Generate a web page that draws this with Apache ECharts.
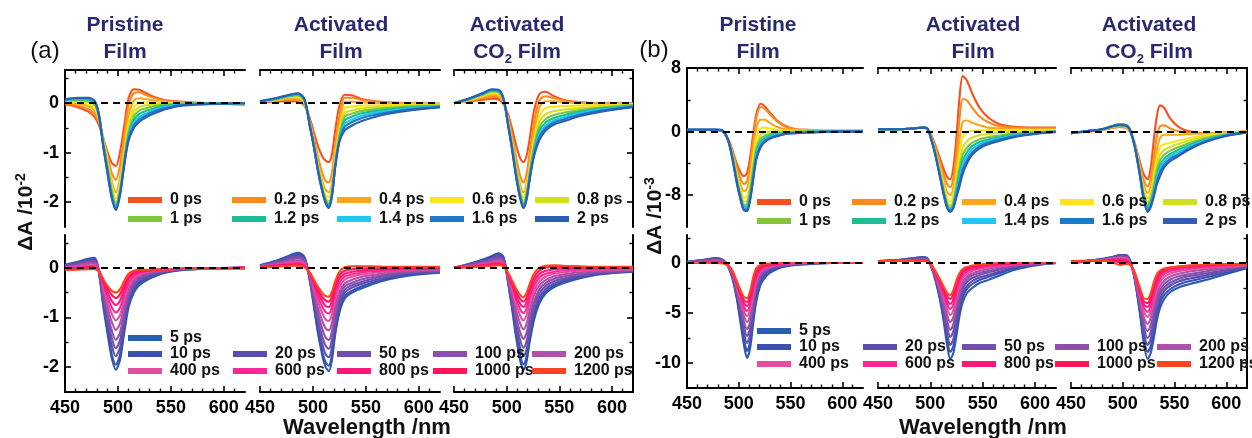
<!DOCTYPE html>
<html><head><meta charset="utf-8">
<script src="https://cdn.jsdelivr.net/npm/echarts@6/dist/echarts.min.js"></script>
<style>html,body{margin:0;padding:0;background:#fff}#c{width:1252px;height:438px}</style>
</head><body><div id="c"></div>
<script>
// ---------------- DATA ----------------
const earlyTimes = ['0 ps','0.2 ps','0.4 ps','0.6 ps','0.8 ps','1 ps','1.2 ps','1.4 ps','1.6 ps','2 ps'];
const lateTimes = ['5 ps','10 ps','20 ps','50 ps','100 ps','200 ps','400 ps','600 ps','800 ps','1000 ps','1200 ps'];
const wlLabels = [450,500,550,600];
const wlMinor = [460,470,480,490,510,520,530,540,560,570,580,590,610];
const aYLabels = [-2,-1,0];
const aYMinor = [-1.5,-0.5,0.5];
const bTopYLabels = [-8,0,8];
const bTopYMinor = [-4,4];
const bBotYLabels = [-10,-5,0];
const bBotYMinor = [-7.5,-2.5,2.5];

// (a) Pristine film, units 1e-2
const wlPristineA = [450,462,472,478,482,486,490,494,498,502,506,510,515,520,527,535,545,560,585,620];
const pristineA_early = [
 [-0.02,-0.08,-0.17,-0.28,-0.45,-0.7,-0.98,-1.2,-1.27,-0.98,-0.45,0.1,0.28,0.27,0.2,0.12,0.06,0.03,0.0,-0.03],
 [0.0,-0.05,-0.12,-0.22,-0.4,-0.7,-1.05,-1.4,-1.55,-1.25,-0.65,-0.05,0.2,0.22,0.16,0.1,0.05,0.02,0.0,-0.02],
 [0.02,-0.01,-0.06,-0.15,-0.35,-0.7,-1.1,-1.55,-1.8,-1.5,-0.85,-0.25,0.05,0.1,0.08,0.05,0.03,0.01,0.0,-0.01],
 [0.03,0.02,-0.02,-0.1,-0.3,-0.72,-1.15,-1.62,-1.92,-1.62,-1.0,-0.4,-0.08,0.0,0.02,0.02,0.01,0.0,0.0,0.0],
 [0.04,0.04,0.02,-0.06,-0.28,-0.75,-1.2,-1.7,-2.0,-1.7,-1.08,-0.5,-0.18,-0.08,-0.04,-0.02,-0.01,0.0,0.0,0.0],
 [0.05,0.06,0.05,-0.02,-0.26,-0.78,-1.25,-1.75,-2.05,-1.75,-1.15,-0.58,-0.27,-0.15,-0.1,-0.06,-0.03,-0.01,0.0,0.0],
 [0.06,0.08,0.07,0.01,-0.25,-0.8,-1.3,-1.8,-2.08,-1.78,-1.18,-0.64,-0.34,-0.22,-0.15,-0.1,-0.05,-0.02,0.0,0.0],
 [0.06,0.09,0.09,0.03,-0.24,-0.82,-1.33,-1.85,-2.1,-1.8,-1.2,-0.68,-0.4,-0.28,-0.2,-0.13,-0.08,-0.03,-0.01,0.0],
 [0.07,0.1,0.1,0.04,-0.23,-0.84,-1.36,-1.88,-2.13,-1.83,-1.22,-0.72,-0.45,-0.33,-0.24,-0.16,-0.1,-0.04,-0.01,0.0],
 [0.08,0.11,0.11,0.05,-0.22,-0.86,-1.4,-1.9,-2.16,-1.85,-1.25,-0.76,-0.5,-0.38,-0.28,-0.2,-0.12,-0.05,-0.02,0.0]
];
const pristineA_late = [
 [0.06,0.12,0.18,0.2,-0.1,-0.75,-1.3,-1.8,-2.05,-1.85,-1.3,-0.8,-0.5,-0.35,-0.25,-0.17,-0.1,-0.05,-0.02,0.0],
 [0.05,0.11,0.17,0.18,-0.08,-0.7,-1.22,-1.72,-1.95,-1.75,-1.22,-0.74,-0.45,-0.31,-0.22,-0.15,-0.09,-0.04,-0.02,0.0],
 [0.04,0.1,0.15,0.16,-0.06,-0.63,-1.1,-1.55,-1.78,-1.6,-1.1,-0.66,-0.4,-0.27,-0.19,-0.13,-0.08,-0.04,-0.01,0.0],
 [0.03,0.08,0.13,0.14,-0.05,-0.57,-1.0,-1.4,-1.62,-1.45,-1.0,-0.6,-0.35,-0.23,-0.16,-0.11,-0.07,-0.03,-0.01,0.0],
 [0.02,0.06,0.1,0.11,-0.05,-0.5,-0.9,-1.25,-1.45,-1.3,-0.88,-0.52,-0.3,-0.2,-0.13,-0.09,-0.06,-0.03,-0.01,0.0],
 [0.01,0.04,0.08,0.08,-0.05,-0.44,-0.78,-1.08,-1.25,-1.12,-0.75,-0.44,-0.25,-0.16,-0.11,-0.07,-0.05,-0.02,-0.01,0.0],
 [0.0,0.02,0.05,0.05,-0.05,-0.38,-0.67,-0.92,-1.06,-0.95,-0.63,-0.36,-0.2,-0.13,-0.09,-0.06,-0.04,-0.02,-0.01,0.0],
 [-0.01,0.0,0.03,0.03,-0.05,-0.33,-0.58,-0.79,-0.9,-0.8,-0.53,-0.3,-0.16,-0.1,-0.07,-0.05,-0.03,-0.02,-0.01,0.0],
 [-0.02,-0.01,0.01,0.01,-0.06,-0.28,-0.49,-0.66,-0.75,-0.66,-0.43,-0.23,-0.12,-0.08,-0.06,-0.04,-0.03,-0.02,-0.01,0.0],
 [-0.03,-0.02,0.0,-0.01,-0.06,-0.24,-0.41,-0.54,-0.61,-0.53,-0.34,-0.18,-0.09,-0.06,-0.05,-0.04,-0.03,-0.02,-0.01,-0.01],
 [-0.05,-0.04,-0.03,-0.03,-0.07,-0.22,-0.36,-0.46,-0.5,-0.43,-0.26,-0.12,-0.06,-0.04,-0.04,-0.03,-0.03,-0.02,-0.02,-0.02]
];

// (a) Activated film
const wlActivatedA = [450,465,478,486,492,497,501,505,509,512,515,518,521,525,530,537,545,555,570,590,620];
const activatedA_early = [
 [0.02,0.03,0.04,0.03,-0.05,-0.3,-0.6,-0.88,-1.08,-1.16,-1.19,-1.02,-0.55,-0.05,0.17,0.16,0.09,0.05,0.02,0.0,-0.01],
 [0.03,0.05,0.07,0.06,-0.04,-0.35,-0.7,-1.1,-1.42,-1.57,-1.6,-1.4,-0.85,-0.25,0.11,0.11,0.07,0.04,0.01,0.0,-0.01],
 [0.03,0.06,0.1,0.1,0.0,-0.38,-0.78,-1.22,-1.58,-1.75,-1.8,-1.6,-1.0,-0.42,0.02,0.03,0.02,0.01,0.0,-0.01,-0.02],
 [0.03,0.07,0.12,0.12,0.02,-0.4,-0.82,-1.28,-1.65,-1.86,-1.9,-1.7,-1.1,-0.55,-0.1,-0.07,-0.05,-0.05,-0.04,-0.03,-0.03],
 [0.04,0.08,0.13,0.14,0.04,-0.41,-0.84,-1.31,-1.7,-1.92,-1.98,-1.76,-1.18,-0.62,-0.2,-0.15,-0.11,-0.09,-0.07,-0.05,-0.04],
 [0.04,0.08,0.14,0.16,0.05,-0.42,-0.86,-1.34,-1.73,-1.96,-2.03,-1.8,-1.22,-0.67,-0.27,-0.21,-0.16,-0.13,-0.1,-0.07,-0.05],
 [0.04,0.09,0.15,0.17,0.06,-0.43,-0.87,-1.36,-1.75,-1.98,-2.06,-1.82,-1.25,-0.71,-0.35,-0.27,-0.21,-0.17,-0.13,-0.09,-0.06],
 [0.04,0.09,0.16,0.18,0.07,-0.44,-0.88,-1.38,-1.77,-2.0,-2.08,-1.84,-1.27,-0.74,-0.42,-0.33,-0.26,-0.21,-0.16,-0.11,-0.07],
 [0.04,0.1,0.17,0.19,0.07,-0.45,-0.89,-1.39,-1.79,-2.01,-2.1,-1.86,-1.29,-0.76,-0.48,-0.38,-0.31,-0.25,-0.19,-0.13,-0.08],
 [0.04,0.1,0.17,0.2,0.08,-0.46,-0.9,-1.4,-1.8,-2.02,-2.12,-1.87,-1.3,-0.78,-0.55,-0.45,-0.37,-0.3,-0.22,-0.15,-0.08]
];
const activatedA_late = [
 [0.05,0.14,0.25,0.3,0.22,-0.25,-0.8,-1.35,-1.78,-2.0,-2.08,-1.85,-1.35,-0.9,-0.62,-0.5,-0.42,-0.34,-0.24,-0.16,-0.1],
 [0.05,0.13,0.23,0.28,0.2,-0.24,-0.76,-1.28,-1.7,-1.9,-1.97,-1.75,-1.27,-0.84,-0.57,-0.46,-0.38,-0.31,-0.22,-0.14,-0.09],
 [0.04,0.12,0.21,0.25,0.18,-0.22,-0.7,-1.17,-1.55,-1.74,-1.8,-1.6,-1.15,-0.75,-0.5,-0.4,-0.33,-0.27,-0.19,-0.12,-0.08],
 [0.04,0.11,0.19,0.22,0.16,-0.2,-0.63,-1.06,-1.4,-1.57,-1.63,-1.44,-1.03,-0.66,-0.44,-0.35,-0.29,-0.23,-0.16,-0.1,-0.07],
 [0.03,0.09,0.16,0.19,0.13,-0.18,-0.56,-0.94,-1.24,-1.4,-1.45,-1.28,-0.9,-0.57,-0.37,-0.3,-0.24,-0.19,-0.13,-0.08,-0.06],
 [0.03,0.08,0.13,0.15,0.1,-0.16,-0.49,-0.82,-1.08,-1.22,-1.26,-1.1,-0.77,-0.48,-0.31,-0.24,-0.19,-0.15,-0.1,-0.06,-0.04],
 [0.02,0.06,0.1,0.12,0.07,-0.14,-0.42,-0.7,-0.92,-1.04,-1.07,-0.93,-0.63,-0.38,-0.24,-0.18,-0.14,-0.11,-0.07,-0.04,-0.03],
 [0.02,0.05,0.08,0.09,0.05,-0.12,-0.36,-0.6,-0.79,-0.89,-0.92,-0.79,-0.52,-0.3,-0.18,-0.13,-0.1,-0.07,-0.05,-0.03,-0.02],
 [0.01,0.04,0.06,0.07,0.03,-0.11,-0.31,-0.52,-0.68,-0.77,-0.79,-0.67,-0.42,-0.22,-0.12,-0.08,-0.06,-0.04,-0.03,-0.02,-0.01],
 [0.01,0.03,0.05,0.05,0.02,-0.1,-0.27,-0.45,-0.59,-0.66,-0.68,-0.57,-0.34,-0.15,-0.06,-0.03,-0.02,-0.01,-0.01,0.0,0.0],
 [0.0,0.02,0.04,0.04,0.02,-0.09,-0.24,-0.39,-0.51,-0.57,-0.58,-0.48,-0.27,-0.08,0.01,0.03,0.03,0.03,0.02,0.02,0.02]
];

// (a) Activated CO2 film
const wlCO2A = [450,465,478,486,492,497,501,505,509,513,516,519,522,526,531,537,545,555,570,590,620];
const co2A_early = [
 [0.0,0.04,0.07,0.09,0.08,-0.02,-0.2,-0.5,-0.85,-1.12,-1.19,-1.05,-0.7,-0.15,0.18,0.23,0.14,0.06,0.02,0.0,0.0],
 [0.0,0.05,0.1,0.13,0.12,0.0,-0.25,-0.62,-1.1,-1.48,-1.6,-1.42,-0.98,-0.4,0.05,0.14,0.1,0.05,0.02,0.0,0.0],
 [0.0,0.06,0.13,0.17,0.16,0.03,-0.3,-0.72,-1.25,-1.65,-1.8,-1.62,-1.17,-0.62,-0.1,0.04,0.04,0.02,0.0,-0.01,-0.01],
 [0.0,0.07,0.15,0.2,0.19,0.05,-0.33,-0.78,-1.33,-1.75,-1.9,-1.72,-1.28,-0.75,-0.26,-0.1,-0.07,-0.06,-0.05,-0.04,-0.02],
 [0.0,0.08,0.17,0.22,0.21,0.06,-0.35,-0.82,-1.38,-1.81,-1.97,-1.79,-1.35,-0.84,-0.38,-0.22,-0.16,-0.13,-0.1,-0.07,-0.03],
 [0.0,0.08,0.18,0.24,0.23,0.07,-0.36,-0.84,-1.41,-1.85,-2.02,-1.84,-1.4,-0.9,-0.48,-0.32,-0.24,-0.19,-0.14,-0.09,-0.04],
 [0.0,0.09,0.19,0.25,0.24,0.08,-0.37,-0.86,-1.43,-1.88,-2.05,-1.87,-1.44,-0.95,-0.56,-0.39,-0.3,-0.24,-0.17,-0.11,-0.05],
 [0.0,0.09,0.2,0.26,0.25,0.08,-0.38,-0.88,-1.45,-1.9,-2.08,-1.9,-1.47,-0.99,-0.63,-0.45,-0.35,-0.28,-0.2,-0.13,-0.06],
 [0.0,0.1,0.2,0.27,0.26,0.09,-0.39,-0.9,-1.47,-1.92,-2.1,-1.92,-1.5,-1.03,-0.69,-0.5,-0.39,-0.32,-0.23,-0.15,-0.07],
 [0.0,0.1,0.21,0.28,0.27,0.1,-0.4,-0.92,-1.49,-1.94,-2.12,-1.94,-1.53,-1.07,-0.75,-0.55,-0.43,-0.36,-0.26,-0.17,-0.08]
];
const co2A_late = [
 [0.0,0.08,0.17,0.24,0.29,0.22,-0.25,-0.8,-1.4,-1.88,-2.05,-1.88,-1.48,-1.05,-0.72,-0.52,-0.39,-0.3,-0.21,-0.13,-0.08],
 [0.0,0.08,0.16,0.22,0.27,0.2,-0.24,-0.76,-1.33,-1.78,-1.94,-1.78,-1.39,-0.98,-0.67,-0.48,-0.36,-0.27,-0.19,-0.12,-0.07],
 [0.0,0.07,0.14,0.2,0.24,0.18,-0.22,-0.7,-1.22,-1.63,-1.78,-1.63,-1.27,-0.88,-0.6,-0.43,-0.32,-0.24,-0.17,-0.11,-0.07],
 [0.0,0.06,0.13,0.18,0.21,0.16,-0.2,-0.63,-1.1,-1.47,-1.61,-1.47,-1.14,-0.78,-0.52,-0.37,-0.27,-0.21,-0.14,-0.09,-0.06],
 [0.0,0.05,0.11,0.15,0.18,0.13,-0.18,-0.56,-0.98,-1.31,-1.43,-1.3,-1.0,-0.68,-0.44,-0.31,-0.22,-0.17,-0.12,-0.08,-0.05],
 [0.0,0.04,0.09,0.12,0.15,0.11,-0.16,-0.49,-0.85,-1.13,-1.24,-1.12,-0.85,-0.56,-0.36,-0.25,-0.17,-0.13,-0.09,-0.06,-0.04],
 [0.0,0.03,0.07,0.1,0.12,0.09,-0.14,-0.42,-0.73,-0.97,-1.06,-0.95,-0.71,-0.46,-0.28,-0.18,-0.12,-0.09,-0.06,-0.04,-0.03],
 [0.0,0.03,0.06,0.08,0.1,0.07,-0.12,-0.37,-0.63,-0.84,-0.91,-0.81,-0.59,-0.36,-0.2,-0.12,-0.08,-0.05,-0.03,-0.02,-0.01],
 [0.0,0.02,0.05,0.07,0.08,0.05,-0.11,-0.32,-0.55,-0.73,-0.79,-0.69,-0.49,-0.27,-0.13,-0.06,-0.03,-0.01,0.0,0.0,0.0],
 [0.0,0.02,0.04,0.05,0.06,0.04,-0.1,-0.28,-0.48,-0.63,-0.68,-0.59,-0.4,-0.19,-0.06,0.0,0.02,0.02,0.02,0.01,0.01],
 [0.0,0.01,0.03,0.04,0.05,0.03,-0.09,-0.25,-0.42,-0.55,-0.59,-0.5,-0.32,-0.12,0.0,0.04,0.05,0.04,0.03,0.02,0.02]
];

// (b) Pristine film, units 1e-3
const wlPristineB = [450,465,478,485,490,494,498,502,505,508,511,514,517,521,525,530,537,545,555,570,590,620];
const pristineB_early = [
 [0.2,0.2,0.2,0.0,-1.0,-2.4,-4.0,-5.2,-5.6,-5.2,-3.2,-0.3,2.2,3.5,3.2,2.4,1.4,0.7,0.3,0.2,0.1,0.1],
 [0.2,0.2,0.2,0.0,-1.1,-2.6,-4.5,-6.0,-6.6,-6.2,-4.2,-1.0,1.7,3.1,2.9,2.2,1.3,0.6,0.3,0.2,0.1,0.1],
 [0.2,0.2,0.2,0.0,-1.1,-2.8,-5.0,-6.8,-7.5,-7.2,-5.3,-2.2,0.4,1.5,1.5,1.1,0.6,0.3,0.2,0.1,0.1,0.1],
 [0.2,0.2,0.2,0.0,-1.2,-3.0,-5.4,-7.4,-8.3,-8.1,-6.3,-3.3,-0.7,0.4,0.5,0.4,0.2,0.1,0.1,0.1,0.1,0.1],
 [0.2,0.2,0.2,0.0,-1.2,-3.1,-5.7,-7.8,-8.8,-8.7,-7.0,-4.1,-1.6,-0.4,-0.1,0.0,0.0,0.0,0.0,0.0,0.0,0.1],
 [0.2,0.2,0.2,0.0,-1.2,-3.2,-5.9,-8.1,-9.2,-9.1,-7.5,-4.7,-2.2,-0.9,-0.5,-0.3,-0.2,-0.1,0.0,0.0,0.0,0.1],
 [0.2,0.2,0.2,0.0,-1.2,-3.3,-6.1,-8.3,-9.4,-9.4,-7.9,-5.1,-2.6,-1.3,-0.8,-0.5,-0.3,-0.2,-0.1,0.0,0.0,0.0],
 [0.2,0.2,0.2,0.0,-1.2,-3.4,-6.2,-8.5,-9.6,-9.6,-8.2,-5.5,-3.0,-1.6,-1.0,-0.7,-0.4,-0.2,-0.1,0.0,0.0,0.0],
 [0.2,0.2,0.2,0.0,-1.2,-3.5,-6.3,-8.6,-9.8,-9.8,-8.4,-5.8,-3.3,-1.8,-1.2,-0.8,-0.5,-0.3,-0.2,-0.1,0.0,0.0],
 [0.3,0.3,0.3,0.1,-1.2,-3.5,-6.4,-8.7,-9.9,-10.0,-8.6,-6.0,-3.5,-2.0,-1.3,-0.9,-0.6,-0.3,-0.2,-0.1,0.0,0.0]
];
const pristineB_late = [
 [0.1,0.3,0.5,0.3,-0.4,-1.6,-3.5,-6.2,-8.2,-9.5,-8.5,-6.0,-3.8,-2.2,-1.5,-1.0,-0.6,-0.35,-0.2,-0.1,0.0,0.0],
 [0.1,0.3,0.45,0.3,-0.4,-1.5,-3.3,-5.8,-7.6,-8.8,-7.9,-5.5,-3.4,-1.9,-1.3,-0.85,-0.5,-0.3,-0.15,-0.05,0.0,0.0],
 [0.1,0.25,0.4,0.25,-0.35,-1.4,-3.1,-5.3,-7.0,-8.0,-7.2,-5.0,-3.0,-1.6,-1.1,-0.7,-0.4,-0.25,-0.1,0.0,0.0,0.0],
 [0.1,0.2,0.35,0.2,-0.3,-1.3,-2.9,-4.9,-6.4,-7.3,-6.5,-4.5,-2.6,-1.4,-0.9,-0.6,-0.35,-0.2,-0.1,0.0,0.0,0.0],
 [0.1,0.2,0.3,0.2,-0.3,-1.2,-2.7,-4.5,-5.9,-6.6,-5.9,-4.0,-2.3,-1.2,-0.8,-0.5,-0.3,-0.15,-0.1,0.0,0.0,0.0],
 [0.05,0.15,0.25,0.15,-0.3,-1.1,-2.5,-4.1,-5.3,-5.9,-5.2,-3.5,-2.0,-1.0,-0.65,-0.4,-0.25,-0.1,-0.05,0.0,0.0,0.0],
 [0.05,0.1,0.2,0.1,-0.3,-1.0,-2.3,-3.8,-4.8,-5.3,-4.6,-3.0,-1.7,-0.85,-0.5,-0.3,-0.2,-0.1,0.0,0.0,0.0,0.0],
 [0.0,0.1,0.15,0.1,-0.25,-0.95,-2.1,-3.5,-4.4,-4.8,-4.1,-2.6,-1.4,-0.7,-0.4,-0.25,-0.15,-0.05,0.0,0.0,0.0,0.0],
 [0.0,0.05,0.1,0.05,-0.25,-0.9,-2.0,-3.2,-4.0,-4.3,-3.6,-2.2,-1.1,-0.5,-0.3,-0.2,-0.1,0.0,0.0,0.0,0.0,0.0],
 [0.0,0.05,0.05,0.0,-0.25,-0.85,-1.9,-3.0,-3.7,-3.9,-3.2,-1.8,-0.8,-0.35,-0.2,-0.1,-0.05,0.0,0.0,0.0,0.0,0.0],
 [0.0,0.0,0.0,-0.05,-0.3,-0.8,-1.8,-2.8,-3.4,-3.5,-2.8,-1.4,-0.5,-0.2,-0.1,-0.05,0.0,0.0,0.0,0.0,0.0,0.0]
];

// (b) Activated film
const wlActivatedB = [450,470,485,492,497,501,505,509,513,516,519,522,525,528,531,535,540,547,555,565,580,600,620];
const activatedB_early = [
 [0.3,0.3,0.4,0.5,0.4,-0.5,-1.8,-3.3,-4.8,-5.7,-6.0,-4.5,-0.5,4.5,7.0,6.4,4.8,3.0,1.8,1.0,0.6,0.5,0.5],
 [0.3,0.3,0.4,0.5,0.4,-0.6,-2.1,-3.8,-5.5,-6.6,-7.0,-5.8,-2.5,1.8,4.1,3.9,3.0,1.9,1.2,0.7,0.5,0.4,0.4],
 [0.3,0.3,0.4,0.5,0.4,-0.7,-2.4,-4.3,-6.3,-7.6,-8.0,-7.0,-4.2,-0.8,1.2,1.4,1.1,0.8,0.5,0.4,0.3,0.3,0.3],
 [0.3,0.3,0.4,0.5,0.4,-0.8,-2.6,-4.7,-6.9,-8.3,-8.8,-7.9,-5.4,-2.5,-0.7,-0.1,0.1,0.15,0.15,0.15,0.2,0.2,0.2],
 [0.3,0.3,0.4,0.5,0.4,-0.8,-2.7,-5.0,-7.3,-8.8,-9.3,-8.5,-6.2,-3.7,-2.0,-1.2,-0.75,-0.45,-0.3,-0.15,0.0,0.05,0.1],
 [0.3,0.3,0.4,0.5,0.4,-0.9,-2.8,-5.2,-7.6,-9.1,-9.6,-8.9,-6.8,-4.5,-2.9,-2.0,-1.4,-0.95,-0.7,-0.5,-0.25,-0.1,0.05],
 [0.3,0.3,0.4,0.5,0.4,-0.9,-2.9,-5.3,-7.8,-9.3,-9.8,-9.2,-7.2,-5.2,-3.6,-2.6,-1.8,-1.3,-1.0,-0.7,-0.4,-0.15,0.0],
 [0.3,0.3,0.4,0.5,0.4,-1.0,-3.0,-5.4,-7.9,-9.4,-9.9,-9.4,-7.6,-5.8,-4.2,-3.1,-2.2,-1.6,-1.2,-0.9,-0.5,-0.2,0.0],
 [0.3,0.3,0.4,0.5,0.4,-1.0,-3.0,-5.5,-8.0,-9.5,-10.0,-9.5,-7.9,-6.3,-4.8,-3.6,-2.6,-1.85,-1.4,-1.05,-0.6,-0.25,-0.05],
 [0.3,0.3,0.4,0.5,0.4,-1.1,-3.1,-5.6,-8.1,-9.6,-10.1,-9.6,-8.2,-6.8,-5.3,-4.0,-2.9,-2.1,-1.6,-1.2,-0.7,-0.3,-0.05]
];
const activatedB_late = [
 [0.2,0.3,0.5,0.6,0.5,-0.4,-1.8,-3.6,-6.0,-8.2,-9.6,-9.0,-7.2,-5.2,-3.9,-3.0,-2.5,-2.0,-1.7,-1.3,-0.7,-0.25,0.0],
 [0.2,0.3,0.5,0.55,0.45,-0.4,-1.7,-3.4,-5.6,-7.6,-8.9,-8.3,-6.5,-4.6,-3.4,-2.6,-2.1,-1.7,-1.4,-1.05,-0.55,-0.2,0.0],
 [0.2,0.3,0.45,0.5,0.4,-0.4,-1.6,-3.2,-5.2,-7.0,-8.2,-7.6,-5.9,-4.1,-3.0,-2.3,-1.8,-1.45,-1.2,-0.9,-0.45,-0.15,0.0],
 [0.2,0.25,0.4,0.45,0.35,-0.35,-1.5,-3.0,-4.8,-6.4,-7.4,-6.8,-5.2,-3.6,-2.6,-1.9,-1.5,-1.2,-0.95,-0.7,-0.35,-0.1,0.0],
 [0.2,0.25,0.35,0.4,0.3,-0.35,-1.4,-2.8,-4.4,-5.8,-6.7,-6.1,-4.6,-3.1,-2.2,-1.6,-1.25,-1.0,-0.8,-0.55,-0.25,-0.1,0.0],
 [0.2,0.2,0.3,0.35,0.3,-0.3,-1.3,-2.6,-4.0,-5.2,-5.9,-5.4,-4.0,-2.7,-1.85,-1.35,-1.05,-0.8,-0.6,-0.4,-0.2,-0.05,0.0],
 [0.2,0.2,0.3,0.3,0.25,-0.3,-1.2,-2.3,-3.6,-4.6,-5.2,-4.7,-3.4,-2.2,-1.5,-1.1,-0.8,-0.6,-0.45,-0.3,-0.15,0.0,0.0],
 [0.2,0.2,0.25,0.3,0.25,-0.25,-1.1,-2.1,-3.2,-4.1,-4.6,-4.1,-2.9,-1.8,-1.2,-0.85,-0.6,-0.45,-0.3,-0.2,-0.1,0.0,0.0],
 [0.2,0.2,0.25,0.25,0.2,-0.25,-1.0,-1.9,-2.9,-3.7,-4.1,-3.6,-2.4,-1.45,-0.95,-0.65,-0.45,-0.3,-0.2,-0.1,-0.05,0.0,0.0],
 [0.2,0.2,0.2,0.25,0.2,-0.2,-0.9,-1.7,-2.6,-3.3,-3.6,-3.1,-2.0,-1.2,-0.75,-0.5,-0.35,-0.2,-0.1,-0.05,0.0,0.0,0.0],
 [0.2,0.2,0.2,0.2,0.15,-0.2,-0.85,-1.6,-2.4,-3.0,-3.2,-2.7,-1.7,-1.0,-0.6,-0.4,-0.25,-0.15,-0.1,0.0,0.0,0.0,0.0]
];

// (b) Activated CO2 film
const wlCO2B = [450,465,480,490,497,503,507,511,514,517,520,524,527,530,533,536,540,546,555,565,580,600,620];
const co2B_early = [
 [-0.2,0.0,0.2,0.5,0.6,0.5,0.0,-1.2,-2.6,-4.0,-5.3,-6.0,-4.5,-1.0,2.0,3.3,3.0,1.6,0.5,0.0,-0.2,-0.1,0.0],
 [-0.2,0.0,0.2,0.5,0.6,0.5,0.0,-1.3,-2.8,-4.4,-6.0,-6.9,-5.8,-3.2,-0.6,0.7,0.8,0.4,0.0,-0.2,-0.2,-0.1,0.0],
 [-0.2,0.0,0.25,0.55,0.7,0.6,0.1,-1.3,-3.0,-4.8,-6.6,-7.7,-6.8,-4.6,-2.2,-0.8,-0.4,-0.4,-0.4,-0.3,-0.2,-0.1,0.0],
 [-0.2,0.0,0.25,0.6,0.75,0.65,0.15,-1.4,-3.1,-5.1,-7.1,-8.4,-7.6,-5.6,-3.3,-2.0,-1.6,-1.4,-1.1,-0.8,-0.45,-0.2,0.0],
 [-0.2,0.05,0.3,0.65,0.8,0.7,0.2,-1.4,-3.2,-5.3,-7.5,-8.9,-8.1,-6.3,-4.2,-2.9,-2.3,-1.9,-1.5,-1.1,-0.65,-0.3,-0.05],
 [-0.2,0.05,0.3,0.7,0.9,0.8,0.25,-1.4,-3.3,-5.5,-7.8,-9.3,-8.6,-6.9,-4.9,-3.6,-2.9,-2.4,-1.9,-1.4,-0.85,-0.35,-0.05],
 [-0.2,0.05,0.3,0.7,0.95,0.85,0.25,-1.5,-3.4,-5.6,-8.0,-9.5,-8.9,-7.3,-5.5,-4.2,-3.4,-2.8,-2.2,-1.65,-1.0,-0.4,-0.1],
 [-0.2,0.05,0.3,0.7,0.9,0.8,0.25,-1.5,-3.5,-5.7,-8.2,-9.7,-9.1,-7.6,-5.9,-4.7,-3.8,-3.1,-2.5,-1.85,-1.1,-0.45,-0.1],
 [-0.2,0.05,0.3,0.7,0.85,0.8,0.2,-1.5,-3.5,-5.8,-8.3,-9.9,-9.3,-7.9,-6.3,-5.1,-4.2,-3.4,-2.8,-2.05,-1.2,-0.5,-0.1],
 [-0.2,0.05,0.3,0.65,0.8,0.75,0.2,-1.6,-3.6,-5.9,-8.4,-10.1,-9.5,-8.2,-6.6,-5.6,-4.5,-3.7,-3.0,-2.2,-1.3,-0.55,-0.1]
];
const co2B_late = [
 [0.0,0.2,0.4,0.6,0.8,0.8,0.3,-1.3,-3.2,-5.4,-7.8,-9.6,-9.0,-7.5,-5.7,-4.5,-3.6,-2.9,-2.4,-2.1,-1.7,-1.1,-0.5],
 [0.0,0.2,0.4,0.6,0.75,0.75,0.25,-1.3,-3.1,-5.1,-7.3,-8.9,-8.3,-6.8,-5.1,-4.0,-3.2,-2.6,-2.1,-1.8,-1.45,-0.95,-0.45],
 [0.0,0.2,0.35,0.55,0.7,0.7,0.2,-1.25,-2.9,-4.8,-6.8,-8.2,-7.6,-6.2,-4.6,-3.6,-2.8,-2.25,-1.8,-1.55,-1.25,-0.8,-0.4],
 [0.0,0.2,0.35,0.5,0.65,0.65,0.2,-1.2,-2.8,-4.5,-6.3,-7.5,-6.9,-5.6,-4.1,-3.1,-2.45,-1.95,-1.55,-1.3,-1.05,-0.7,-0.35],
 [0.0,0.15,0.3,0.5,0.6,0.6,0.15,-1.15,-2.6,-4.2,-5.8,-6.8,-6.2,-5.0,-3.6,-2.7,-2.1,-1.65,-1.3,-1.1,-0.85,-0.55,-0.3],
 [0.0,0.15,0.3,0.45,0.55,0.5,0.1,-1.1,-2.4,-3.9,-5.3,-6.1,-5.5,-4.3,-3.1,-2.3,-1.75,-1.35,-1.05,-0.85,-0.65,-0.45,-0.25],
 [0.1,0.15,0.3,0.4,0.5,0.45,0.05,-1.0,-2.2,-3.5,-4.8,-5.4,-4.8,-3.7,-2.6,-1.9,-1.4,-1.05,-0.8,-0.65,-0.5,-0.35,-0.2],
 [0.1,0.15,0.25,0.35,0.4,0.35,0.0,-0.95,-2.0,-3.2,-4.4,-4.9,-4.3,-3.2,-2.2,-1.55,-1.1,-0.8,-0.6,-0.5,-0.35,-0.25,-0.15],
 [0.1,0.2,0.25,0.3,0.3,0.25,-0.05,-0.9,-1.9,-3.0,-4.1,-4.4,-3.8,-2.7,-1.8,-1.2,-0.85,-0.6,-0.45,-0.35,-0.25,-0.15,-0.1],
 [0.2,0.2,0.25,0.2,0.1,0.1,-0.1,-0.85,-1.8,-2.8,-3.8,-4.0,-3.4,-2.3,-1.45,-0.95,-0.65,-0.45,-0.35,-0.25,-0.2,-0.1,-0.1],
 [0.2,0.25,0.3,0.1,-0.2,-0.1,-0.2,-0.8,-1.7,-2.6,-3.5,-3.6,-3.0,-1.9,-1.1,-0.75,-0.55,-0.45,-0.35,-0.25,-0.15,-0.1,-0.1]
];

// ---------------- STYLE / LAYOUT ----------------
const earlyColors = ['#f4511e','#fb8a1c','#f9a61b','#fde31c','#d0e11d','#7fc63c','#1cbe96','#20c7f1','#1b7bc8','#2d5eb1'];
const lateColors = ['#2a5cb0','#3c50af','#5a4fae','#704fad','#8d4fab','#ae52a8','#e64c9f','#fc2697','#ff1878','#ff1558','#ff4422'];
const FONT = '"Liberation Sans", Arial, Helvetica, sans-serif';
const TITLE_COLOR = '#29296f';

const figLayout = [
  { cols: [[65,245],[260,440],[454,633]], rows: [[70,227],[235,392]],
    yRange: [[-2.5,0.67],[-2.5,0.66]],
    yMajor: [aYLabels, aYLabels], yMinor: [aYMinor, aYMinor] },
  { cols: [[687,863],[878,1056],[1071,1247]], rows: [[68,227],[235,388]],
    yRange: [[-12,8],[-12.5,2.8]],
    yMajor: [bTopYLabels, bBotYLabels], yMinor: [bTopYMinor, bBotYMinor] }
];

const panels = [
  {f:0,c:0,x:wlPristineA,e:pristineA_early,l:pristineA_late},
  {f:0,c:1,x:wlActivatedA,e:activatedA_early,l:activatedA_late},
  {f:0,c:2,x:wlCO2A,e:co2A_early,l:co2A_late},
  {f:1,c:0,x:wlPristineB,e:pristineB_early,l:pristineB_late},
  {f:1,c:1,x:wlActivatedB,e:activatedB_early,l:activatedB_late},
  {f:1,c:2,x:wlCO2B,e:co2B_early,l:co2B_late}
];

const grids = [], xAxes = [], yAxes = [], series = [];
const lblStyle = {fontSize:18, fontWeight:'bold', color:'#000', fontFamily:FONT};
let g = 0;
panels.forEach(p => {
  const L = figLayout[p.f];
  [0,1].forEach(r => {
    const [x0,x1] = L.cols[p.c];
    const [y0,y1] = L.rows[r];
    grids.push({left:x0, top:y0, width:x1-x0, height:y1-y0, show:false});
    const pos = r === 0 ? 'top' : 'bottom';
    xAxes.push({gridIndex:g, type:'value', min:450, max:620, position:pos,
      axisLine:{show:true, onZero:false, lineStyle:{color:'#000', width:2}},
      axisTick:{show:true, inside:true, length:6, customValues:wlLabels, lineStyle:{color:'#000', width:1.6}},
      axisLabel:{show:r===1, customValues:wlLabels, margin:7, ...lblStyle},
      splitLine:{show:false}});
    xAxes.push({gridIndex:g, type:'value', min:450, max:620, position:pos,
      axisLine:{show:false, onZero:false},
      axisTick:{show:true, inside:true, length:3.5, customValues:wlMinor, lineStyle:{color:'#000', width:1.4}},
      axisLabel:{show:false}, splitLine:{show:false}});
    const side = p.c === 2 ? 'right' : 'left';
    const showY = p.c !== 1;
    const [ymin,ymax] = L.yRange[r];
    yAxes.push({gridIndex:g, type:'value', min:ymin, max:ymax, position:side, show:showY,
      axisLine:{show:true, onZero:false, lineStyle:{color:'#000', width:2}},
      axisTick:{show:true, inside:true, length:6, customValues:L.yMajor[r], lineStyle:{color:'#000', width:1.6}},
      axisLabel:{show:p.c===0, customValues:L.yMajor[r], margin:6, ...lblStyle},
      splitLine:{show:false}});
    yAxes.push({gridIndex:g, type:'value', min:ymin, max:ymax, position:side, show:showY,
      axisLine:{show:false, onZero:false},
      axisTick:{show:true, inside:true, length:3.5, customValues:L.yMinor[r], lineStyle:{color:'#000', width:1.4}},
      axisLabel:{show:false}, splitLine:{show:false}});
    const curves = r === 0 ? p.e : p.l;
    const names = r === 0 ? earlyTimes : lateTimes;
    const cols = r === 0 ? earlyColors : lateColors;
    curves.forEach((ys, i) => {
      const s = {type:'line', name:names[i], xAxisIndex:2*g, yAxisIndex:2*g,
        data: p.x.map((x, j) => [x, ys[j]]), showSymbol:false, symbol:'none',
        smooth:0.3, color:cols[i], lineStyle:{color:cols[i], width:2.1},
        silent:true, animation:false, z:2};
      if (i === 0) {
        s.markLine = {silent:true, symbol:['none','none'], label:{show:false},
          lineStyle:{type:[7,5], color:'#000', width:1.8}, data:[{yAxis:0}], animation:false};
      }
      series.push(s);
    });
    g++;
  });
});

// Legends: one component per entry
const legends = [];
function addLegend(names, rowsIdx, colX, rowY) {
  rowsIdx.forEach((row, ri) => row.forEach((idx, ci) => {
    legends.push({show:true, data:[names[idx]], left:colX[ci], top:rowY[ri]-10, orient:'horizontal',
      icon:'rect', itemWidth:34, itemHeight:6, padding:0, itemGap:0, selectedMode:false,
      textStyle:{fontSize:16, fontWeight:'bold', color:'#111', fontFamily:FONT, lineHeight:20, padding:[0,0,0,3]}});
  }));
}
addLegend(earlyTimes, [[0,1,2,3,4],[5,6,7,8,9]], [128,232,337,430,535], [200,219]);
addLegend(lateTimes, [[0],[1,2,3,4,5],[6,7,8,9,10]], [128,233,337,433,532], [338,354,371]);
addLegend(earlyTimes, [[0,1,2,3,4],[5,6,7,8,9]], [757,852,962,1060,1163], [202,221]);
addLegend(lateTimes, [[0],[1,2,3,4,5],[6,7,8,9,10]], [757,863,962,1055,1157], [331,347,364]);

// Text graphics
const tRich = {
  t:{fontSize:21, fontWeight:'bold', fontFamily:FONT, fill:TITLE_COLOR, lineHeight:27},
  s:{fontSize:13, fontWeight:'bold', fontFamily:FONT, fill:TITLE_COLOR, lineHeight:12, verticalAlign:'bottom'}
};
function title(x, text) {
  return {type:'text', x:x, y:12, silent:true,
    style:{text:text, rich:tRich, align:'center', verticalAlign:'top'}};
}
const yRich = {
  m:{fontSize:21, fontWeight:'bold', fontFamily:FONT, fill:'#111', lineHeight:24},
  p:{fontSize:14, fontWeight:'bold', fontFamily:FONT, fill:'#111', lineHeight:12, verticalAlign:'top'}
};
const graphic = [
  title(125, '{t|Pristine}\n{t|Film}'),
  title(341, '{t|Activated}\n{t|Film}'),
  title(517, '{t|Activated}\n{t|CO}{s|2}{t| Film}'),
  title(758, '{t|Pristine}\n{t|Film}'),
  title(973, '{t|Activated}\n{t|Film}'),
  title(1149, '{t|Activated}\n{t|CO}{s|2}{t| Film}'),
  {type:'text', x:45, y:51, silent:true, style:{text:'(a)', font:'24px '+FONT, fill:'#111', align:'center', verticalAlign:'middle'}},
  {type:'text', x:654, y:50, silent:true, style:{text:'(b)', font:'24px '+FONT, fill:'#111', align:'center', verticalAlign:'middle'}},
  {type:'text', x:26, y:212, rotation:Math.PI/2, silent:true,
    style:{text:'{m|ΔA /10}{p|-2}', rich:yRich, align:'center', verticalAlign:'middle'}},
  {type:'text', x:655, y:216, rotation:Math.PI/2, silent:true,
    style:{text:'{m|ΔA /10}{p|-3}', rich:yRich, align:'center', verticalAlign:'middle'}},
  {type:'text', x:367, y:428, silent:true, style:{text:'Wavelength /nm', font:'bold 22px '+FONT, fill:'#111', align:'center', verticalAlign:'middle'}},
  {type:'text', x:983, y:428, silent:true, style:{text:'Wavelength /nm', font:'bold 22px '+FONT, fill:'#111', align:'center', verticalAlign:'middle'}}
];

const chart = echarts.init(document.getElementById('c'), null, {renderer:'canvas'});
chart.setOption({
  backgroundColor:'#fff',
  animation:false,
  grid:grids, xAxis:xAxes, yAxis:yAxes, series:series,
  legend:legends, graphic:graphic
});
</script></body></html>
